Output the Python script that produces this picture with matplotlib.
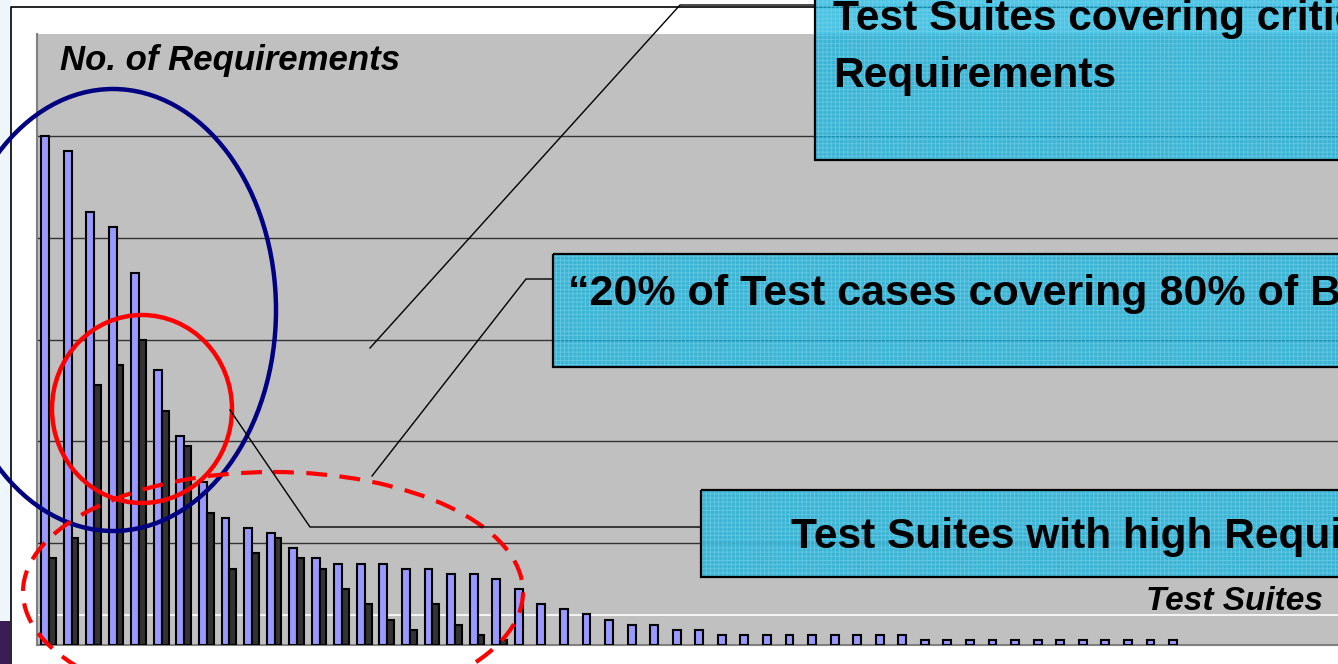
import matplotlib
matplotlib.use('Agg')
import matplotlib.pyplot as plt
from matplotlib.patches import Ellipse, Rectangle
import numpy as np

# values (gridline step = 20)
req_all = [100, 97, 85, 82, 73, 54, 41, 32, 25, 23, 22, 19, 17, 16, 16, 16, 15,
           15, 14, 14, 13, 11, 8, 7, 6, 5, 4, 4, 3, 3,
           2, 2, 2, 2, 2, 2, 2, 2, 2,
           1, 1, 1, 1, 1, 1, 1, 1, 1, 1, 1, 1]
req_critical = [17, 21, 51, 55, 60, 46, 39, 26, 15, 18, 21, 17, 15, 11, 8, 5, 3,
                8, 4, 2, 1, 0, 0, 0, 0, 0, 0, 0, 0, 0,
                0, 0, 0, 0, 0, 0, 0, 0, 0,
                0, 0, 0, 0, 0, 0, 0, 0, 0, 0, 0, 0]
grid_levels = [20, 40, 60, 80, 100]
white_level = 5.9

W, H = 1338, 664
fig = plt.figure(figsize=(W / 100, H / 100), dpi=100)
fig.patch.set_facecolor('white')

# background decoration (pixel coords)
bg = fig.add_axes([0, 0, 1, 1], zorder=0)
bg.set_xlim(0, W)
bg.set_ylim(H, 0)
bg.axis('off')
bg.add_patch(Rectangle((0, 0), 11, H, color='#EEF6FC', lw=0))
bg.add_patch(Rectangle((0, 621), 10, 50, color='#3A1D56', lw=0))
bg.plot([11, 11, W], [H, 7, 7], color='black', lw=1.2)

# chart
ax = fig.add_axes([37 / W, (H - 645) / H, (W - 37) / W, 611 / H], zorder=1)
ax.set_facecolor('#C0C0C0')
x = np.arange(len(req_all))
crit = np.array(req_critical)
ax.bar(x, req_all, width=0.35, align='edge', color='#9999FF',
       edgecolor='black', linewidth=1.5, zorder=3)
m = crit > 0
ax.bar(x[m] + 0.35, crit[m], width=0.30, align='edge', color='#333333',
       edgecolor='black', linewidth=1.5, zorder=3)
for g in grid_levels:
    ax.axhline(g, color='#333333', lw=1.0, zorder=1)
ax.axhline(white_level, color='white', lw=1.2, zorder=1)
ax.set_xlim(-0.18, -0.18 + (W - 37) / 22.56)
ax.set_ylim(0, 120)
ax.set_xticks([])
ax.set_yticks([])
for s in ['top', 'right']:
    ax.spines[s].set_visible(False)
for s in ['left', 'bottom']:
    ax.spines[s].set_color('#808080')
    ax.spines[s].set_linewidth(1.5)

# annotations overlay (pixel coords)
ov = fig.add_axes([0, 0, 1, 1], zorder=2)
ov.set_xlim(0, W)
ov.set_ylim(H, 0)
ov.axis('off')
ov.patch.set_alpha(0)

ov.add_patch(Ellipse((113, 310), 326, 442, fill=False, ec='#000080', lw=3.2))
ov.add_patch(Ellipse((142, 409), 180, 188, fill=False, ec='#FF0000', lw=3.2))
ov.add_patch(Ellipse((273, 592), 500, 240, fill=False, ec='#FF0000', lw=3.0,
                     linestyle=(0, (5, 3))))

plt.rcParams['hatch.linewidth'] = 0.6
boxes = [(815, -10, 160), (553, 254, 367), (701, 490, 577)]
for bx, y0, y1 in boxes:
    ov.add_patch(Rectangle((bx, y0), 1000, y1 - y0, facecolor='#10B0DB',
                           alpha=0.75, lw=0))
    ov.add_patch(Rectangle((bx, y0), 1000, y1 - y0, facecolor='none',
                           edgecolor='#7FD3EC', hatch='++++', lw=0, alpha=0.6))
    ov.add_patch(Rectangle((bx, y0), 1000, y1 - y0, facecolor='none',
                           edgecolor='black', lw=1.6))

# leader lines
ov.plot([370, 680, 815], [348, 5, 5], color='black', lw=1.0)
ov.plot([372, 526, 553], [476, 279, 279], color='black', lw=1.0)
ov.plot([230, 310, 701], [410, 527, 527], color='black', lw=1.0)

font = 'Liberation Sans'
ov.text(833, 30, 'Test Suites covering critical', fontsize=30.5, fontweight='bold',
        family=font, va='baseline', ha='left')
ov.text(833, 87, 'Requirements', fontsize=30.5, fontweight='bold',
        family=font, va='baseline', ha='left')
ov.text(568, 305, '\u201c20% of Test cases covering 80% of Business',
        fontsize=31, fontweight='bold', family=font, va='baseline', ha='left')
ov.text(791, 548, 'Test Suites with high Requirements', fontsize=30.5,
        fontweight='bold', family=font, va='baseline', ha='left')
ov.text(60, 70, 'No. of Requirements', fontsize=25, fontweight='bold',
        fontstyle='italic', family=font, va='baseline', ha='left')
ov.text(1323, 610, 'Test Suites', fontsize=24, fontweight='bold',
        fontstyle='italic', family=font, va='baseline', ha='right')

fig.savefig('out.png', dpi=100)
